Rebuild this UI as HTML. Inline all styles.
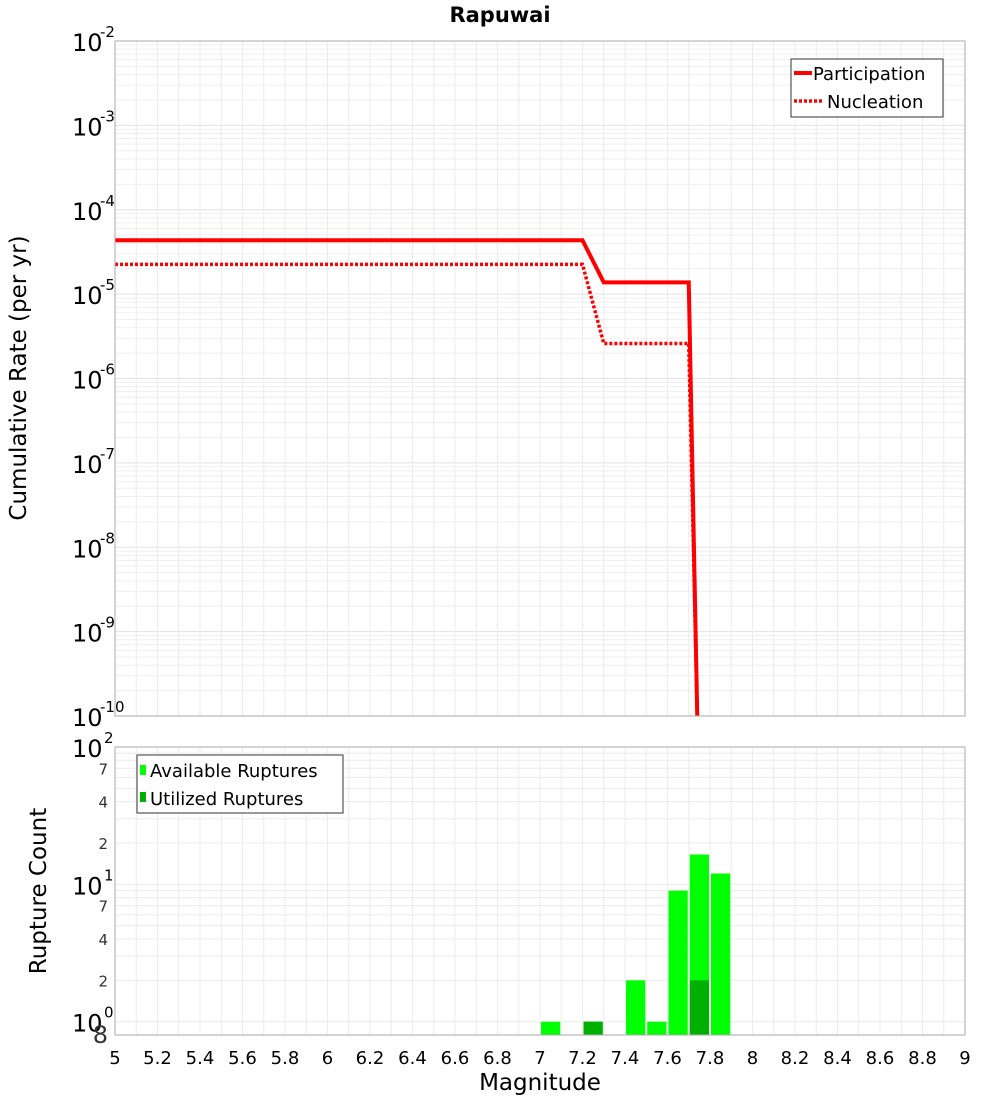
<!DOCTYPE html>
<html><head><meta charset="utf-8"><style>
html,body{margin:0;padding:0;background:#fff;}
svg{display:block;font-family:"Liberation Sans","DejaVu Sans",sans-serif;}
</style></head><body>
<svg id="chart" width="1000" height="1100" viewBox="0 0 1000 1100" xmlns="http://www.w3.org/2000/svg">
<text x="500" y="22" text-anchor="middle" font-size="21" font-weight="bold" font-family="DejaVu Sans, sans-serif">Rapuwai</text>
<g id="topPlot"></g>
<g id="botPlot"></g>
<text transform="translate(26,378) rotate(-90)" text-anchor="middle" font-size="23" font-family="DejaVu Sans, sans-serif">Cumulative Rate (per yr)</text>
<text transform="translate(46,891) rotate(-90)" text-anchor="middle" font-size="23" font-family="DejaVu Sans, sans-serif">Rupture Count</text>
<text x="540" y="1090" text-anchor="middle" font-size="23" font-family="DejaVu Sans, sans-serif">Magnitude</text>
</svg>
<script>
const partMag=[5,7.2,7.3,7.7,7.74];
const partRate=[4.35e-5,4.35e-5,1.38e-5,1.38e-5,1e-10];
const nuclMag=[5,7.2,7.3,7.7,7.74];
const nuclRate=[2.25e-5,2.25e-5,2.6e-6,2.6e-6,1e-10];
const binStart=[7.0,7.2,7.4,7.5,7.6,7.7,7.8];
const availCount=[1,1,2,1,9,16.5,12];
const utilCount=[0,1,0,0,0,2,0];
const xTicks=[5,5.2,5.4,5.6,5.8,6,6.2,6.4,6.6,6.8,7,7.2,7.4,7.6,7.8,8,8.2,8.4,8.6,8.8,9];
const topExp=[-2,-3,-4,-5,-6,-7,-8,-9,-10];
const botLabels=[[100,'10','2'],[70,'7'],[40,'4'],[20,'2'],[10,'10','1'],[7,'7'],[4,'4'],[2,'2'],[1,'10','0'],[0.8,'8']];

const NS='http://www.w3.org/2000/svg';
const L=115,R=965,T1=41,B1=716,T2=747,B2=1035;
const xS=m=>L+(m-5)/4*(R-L);
const y1=v=>T1+(-2-Math.log10(v))/8*(B1-T1);
const lmin=Math.log10(0.8),lmax=2;
const y2=v=>B2-(Math.log10(v)-lmin)/(lmax-lmin)*(B2-T2);
function mk(p,tag,a,txt){const e=document.createElementNS(NS,tag);for(const k in a)e.setAttribute(k,a[k]);if(txt!==undefined)e.textContent=txt;p.appendChild(e);return e;}
const topG=document.getElementById('topPlot'),botG=document.getElementById('botPlot');

// grids
for(let d=-10;d<-2;d++)for(let k=1;k<10;k++){const v=k*Math.pow(10,d);const g=mk(topG,'line',{x1:L,x2:R,y1:y1(v),y2:y1(v),stroke:k==1?'#e2e2e2':'#efefef','stroke-width':1});}
[1,2,3,4,5,6,7,8,9,10,20,30,40,50,60,70,80,90].forEach(v=>{const g=mk(botG,'line',{x1:L,x2:R,y1:y2(v),y2:y2(v),stroke:'#ececec','stroke-width':1});});
for(let i=0;i<=40;i++){const m=5+i*0.1;[[topG,T1,B1],[botG,T2,B2]].forEach(([p,a,b])=>{const g=mk(p,'line',{x1:xS(m),x2:xS(m),y1:a,y2:b,stroke:'#ececec','stroke-width':1});});}

// lines
function path(ms,rs,dash){let d='';ms.forEach((m,i)=>{d+=(i?'L':'M')+xS(m)+','+Math.min(y1(rs[i]),B1+2);});return mk(topG,'path',{d:d,fill:'none',stroke:'#ff0000','stroke-width':dash?3.5:4,'stroke-dasharray':dash?'3,2':'none'});}
const pn=path(nuclMag,nuclRate,true);


const pp=path(partMag,partRate,false);



// bars
binStart.forEach((s,i)=>{const x0=xS(s)+1,w=xS(s+0.1)-xS(s)-2;
const b=mk(botG,'rect',{x:x0,y:y2(availCount[i]),width:w,height:B2-y2(availCount[i]),fill:'#00ff00'});


if(utilCount[i]>0){const u=mk(botG,'rect',{x:x0,y:y2(utilCount[i]),width:w,height:B2-y2(utilCount[i]),fill:'#00b000'});

}});

// frames
[[topG,T1,B1],[botG,T2,B2]].forEach(([p,a,b])=>{const f=mk(p,'rect',{x:L,y:a,width:R-L,height:b-a,fill:'none',stroke:'#aaaaaa','stroke-width':1});});

// ticks
xTicks.forEach(t=>{const e=mk(botG,'text',{x:xS(t),y:1064,'text-anchor':'middle','font-size':18,'font-family':'DejaVu Sans, sans-serif'},String(t));});
topExp.forEach(ex=>{const yy=y1(Math.pow(10,ex));const e=mk(topG,'text',{x:72,y:yy+10,'font-size':24,'font-family':'DejaVu Sans, sans-serif'},'10');const s=mk(topG,'text',{x:100,y:yy-4,'font-size':15,'font-family':'DejaVu Sans, sans-serif'},String(ex));});
botLabels.forEach(b=>{const yy=y2(b[0]);if(b.length==3){const e=mk(botG,'text',{x:72,y:yy+10,'font-size':24,'font-family':'DejaVu Sans, sans-serif'},b[1]);const s=mk(botG,'text',{x:104,y:yy-4,'font-size':15,'font-family':'DejaVu Sans, sans-serif'},b[2]);}else{const e=mk(botG,'text',{x:108,y:yy+(b[0]<1?8:6),'text-anchor':'end','font-size':b[0]<1?24:15,fill:'#333','font-family':'DejaVu Sans, sans-serif'},b[1]);}});

// legends
const lg=mk(topG,'g',{});


mk(lg,'rect',{x:791,y:59,width:152,height:58,fill:'#fff',stroke:'#333','stroke-width':1});
mk(lg,'line',{x1:794,x2:812,y1:73,y2:73,stroke:'#f00','stroke-width':4});
mk(lg,'text',{x:813,y:80,'font-size':18,'font-family':'DejaVu Sans, sans-serif'},'Participation');
mk(lg,'line',{x1:794,x2:822,y1:101,y2:101,stroke:'#f00','stroke-width':3.5,'stroke-dasharray':'3,2'});
mk(lg,'text',{x:827,y:108,'font-size':18,'font-family':'DejaVu Sans, sans-serif'},'Nucleation');
const lg2=mk(botG,'g',{});


mk(lg2,'rect',{x:137,y:755,width:206,height:58,fill:'#fff',stroke:'#333','stroke-width':1});
mk(lg2,'rect',{x:140,y:765,width:6,height:10,fill:'#00ff00'});
mk(lg2,'text',{x:150,y:777,'font-size':18,'font-family':'DejaVu Sans, sans-serif'},'Available Ruptures');
mk(lg2,'rect',{x:140,y:792,width:6,height:10,fill:'#00b000'});
mk(lg2,'text',{x:150,y:805,'font-size':18,'font-family':'DejaVu Sans, sans-serif'},'Utilized Ruptures');
</script>
</body></html>
